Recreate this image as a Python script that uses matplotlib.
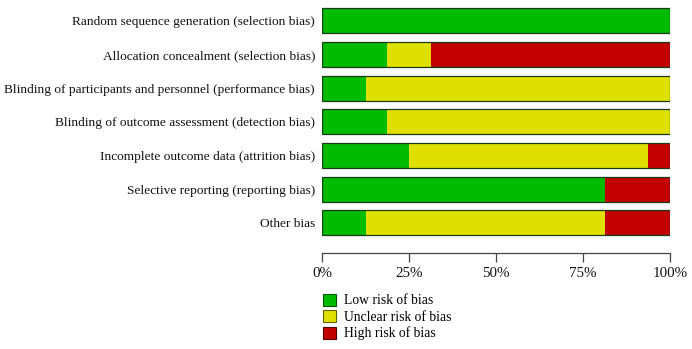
import matplotlib
matplotlib.use("Agg")
import matplotlib.pyplot as plt
from matplotlib.patches import Patch
import numpy as np

DOMAINS = [
    "Random sequence generation (selection bias)",
    "Allocation concealment (selection bias)",
    "Blinding of participants and personnel (performance bias)",
    "Blinding of outcome assessment (detection bias)",
    "Incomplete outcome data (attrition bias)",
    "Selective reporting (reporting bias)",
    "Other bias",
]
LOW = [100.0, 18.75, 12.5, 18.75, 25.0, 81.25, 12.5]
UNCLEAR = [0.0, 12.5, 87.5, 81.25, 68.75, 0.0, 68.75]
HIGH = [0.0, 68.75, 0.0, 0.0, 6.25, 18.75, 18.75]

LEGEND_LABELS = ["Low risk of bias", "Unclear risk of bias", "High risk of bias"]
COLORS = ["#00bb00", "#e0e000", "#c20000"]
EDGES = ["#005500", "#666600", "#550000"]
XTICKS = [0, 25, 50, 75, 100]

plt.rcParams["font.family"] = ["Liberation Serif", "DejaVu Serif"]

fig = plt.figure(figsize=(6.92, 3.49), dpi=100)
W, H = 692, 349
ax = fig.add_axes([322 / W, 1 - 253 / H, 348 / W, 250 / H])

y = np.arange(len(DOMAINS))
height = 0.74
left = np.zeros(len(DOMAINS))
for vals, col in zip([LOW, UNCLEAR, HIGH], COLORS):
    ax.barh(y, vals, left=left, height=height, color=col, edgecolor="none", zorder=2)
    left = left + np.array(vals)
# outline around each full bar
ax.barh(y, left, height=height, fill=False, edgecolor="#1a3a1a", linewidth=0.9, zorder=3)

ax.set_xlim(0, 100)
ax.set_ylim(6.89, -0.52)
ax.set_yticks(y)
ax.set_yticklabels(DOMAINS, fontsize=9.6, color="#111111")
ax.tick_params(axis="y", length=0, pad=5)
ax.set_xticks(XTICKS)
ax.set_xticklabels([f"{t}%" for t in XTICKS], fontsize=10.8, color="#111111")
ax.tick_params(axis="x", direction="out", length=6.5, width=0.9, color="#444444", pad=3.5)
for s in ["top", "right", "left"]:
    ax.spines[s].set_visible(False)
ax.spines["bottom"].set_color("#444444")
ax.spines["bottom"].set_linewidth(0.9)

handles = [Patch(facecolor=c, edgecolor=e, linewidth=0.8) for c, e in zip(COLORS, EDGES)]
fig.legend(handles, LEGEND_LABELS, loc="upper left",
           bbox_to_anchor=(313 / W, 1 - 284 / H), frameon=False,
           fontsize=9.8, handlelength=1.0, handleheight=1.0,
           handletextpad=0.6, labelspacing=0.2, borderpad=0.2)

fig.savefig("out.png", dpi=100)
